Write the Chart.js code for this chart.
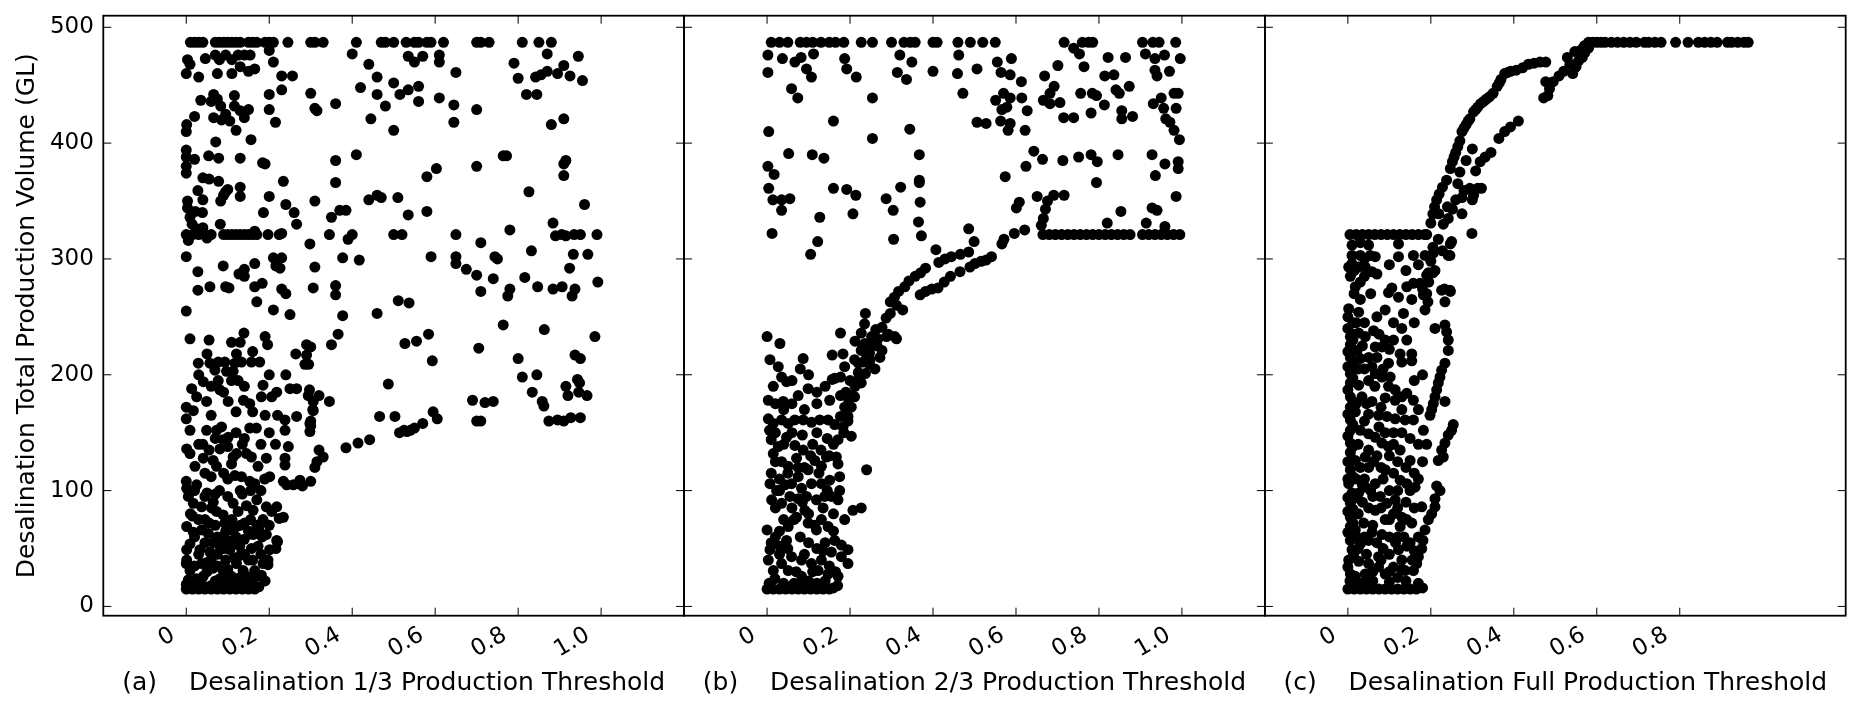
<!DOCTYPE html>
<html lang="en">
<head>
<meta charset="UTF-8">
<title>Desalination Production Thresholds</title>
<script src="https://cdn.jsdelivr.net/npm/chart.js@4.4.1/dist/chart.umd.min.js"></script>
<style>
  html, body { margin: 0; padding: 0; background: #fff; }
  #wrap { position: relative; width: 1861px; height: 713px; }
  #wrap canvas { position: absolute; left: 0; top: 0; }
</style>
</head>
<body>
<div id="wrap">
  <canvas id="panelA" width="1861" height="713"></canvas>
  <canvas id="panelB" width="1861" height="713"></canvas>
  <canvas id="panelC" width="1861" height="713"></canvas>
</div>
<script>
// Tick values / labels
const xTicksAB = [0, 0.2, 0.4, 0.6, 0.8, 1.0];
const xLabelsAB = ['0', '0.2', '0.4', '0.6', '0.8', '1.0'];
const xTicksC = [0, 0.2, 0.4, 0.6, 0.8];
const xLabelsC = ['0', '0.2', '0.4', '0.6', '0.8'];
const yTicks = [0, 100, 200, 300, 400, 500];
const yLabels = ['0', '100', '200', '300', '400', '500'];

const yTitle = 'Desalination Total Production Volume (GL)';
const xTitles = [
  '(a)    Desalination 1/3 Production Threshold',
  '(b)    Desalination 2/3 Production Threshold',
  '(c)    Desalination Full Production Threshold'
];

// (a) threshold vs total volume
const pointsA = [
  [0.01,487],[0.02,487],[0.03,487],[0.04,487],[0.07,487],[0.08,487],[0.09,487],[0.10,487],[0.11,487],[0.12,487],[0.13,487],
  [0.15,487],[0.16,487],[0.17,487],[0.19,487],[0.20,487],[0.21,487],[0.245,487],[0.30,487],[0.31,487],[0.33,487],[0.41,487],
  [0.47,487],[0.48,487],[0.50,487],[0.53,487],[0.55,487],[0.56,487],[0.58,487],[0.59,487],[0.62,487],[0.70,487],[0.71,487],
  [0.73,487],[0.81,487],[0.85,487],[0.88,487],
  [0.003,472],[0.009,468],[0,460],[0.03,457],[0.046,473],[0.07,476],[0.08,472],[0.095,476],[0.11,472],[0.075,460],[0.11,460],
  [0.14,476],[0.154,476],[0.15,462],[0.165,464],[0.2,480],[0.21,470],[0.23,446],[0.256,458],[0.23,458],[0.2,442],[0.2,429],
  [0.215,418],[0.035,437],[0.02,423],[0.001,416],[0,410],[0.066,442],[0.075,438],[0.083,432],[0.095,425],[0.105,419],[0.116,432],
  [0.116,441],[0.13,428],[0.14,422],[0.12,411],[0.156,403],[0.071,401],[0.066,422],[0.085,420],[0.15,429],[0.125,476],[0.13,466],[0.06,436],
  [0.40,477],[0.44,468],[0.42,448],[0.46,457],[0.46,442],[0.50,452],[0.48,432],[0.515,442],[0.535,446],[0.56,449],[0.56,436],
  [0.50,411],[0.445,421],[0.535,475],[0.55,470],[0.57,475],[0.61,476],[0.61,470],[0.65,461],[0.61,439],[0.645,433],[0.645,418],
  [0.70,429],[0.79,469],[0.80,456],[0.82,442],[0.845,442],[0.842,457],[0.855,459],[0.87,462],[0.895,460],[0.91,467],[0.925,458],
  [0.945,475],[0.955,454],[0.87,477],[0.88,416],[0.91,421],[0.30,443],[0.31,430],[0.315,428],[0.36,434],
  [0,394],[0,388],[0,380],[0,374],[0.02,386],[0.054,389],[0.078,387],[0.04,370],[0.055,369],[0.078,367],[0.095,358],[0.083,350],
  [0.028,359],[0.04,351],[0.003,350],[0.003,344],[0.022,341],[0.039,340],[0.009,336],[0.014,330],[0.025,326],[0.04,327],[0.082,330],
  [0.13,362],[0.13,354],[0.13,387],[0.184,383],[0.19,382],[0.2,354],[0.186,340],[0.24,347],[0.26,340],[0.266,330],[0.234,367],
  [0.31,350],[0.36,385],[0.36,366],[0.35,336],[0.37,342],[0.385,342],[0.345,321],[0.39,317],[0.40,321],[0.41,390],[0.44,351],
  [0.46,355],[0.47,353],[0.51,353],[0.535,338],[0.50,321],[0.52,321],[0.58,341],[0.58,371],[0.603,378],[0.70,380],[0.764,389],
  [0.772,389],[0.826,358],[0.78,325],[0.884,331],[0.91,372],[0.915,385],[0.91,382],[0.96,347],[0.65,321],[0.71,314],[0.89,320],
  [0.905,321],[0.915,320],[0.95,321],[0.99,321],[0.935,321],[0.09,355],[0.1,360],
  [0,321],[0.015,321],[0.03,321],[0.045,321],[0.06,321],[0.09,321],[0.10,321],[0.11,321],[0.12,321],[0.13,321],[0.14,321],
  [0.15,321],[0.16,321],[0.17,321],[0.197,321],[0.224,321],[0.005,316],[0.05,318],[0.165,324],[0.23,322],
  [0,302],[0.028,289],[0.028,273],[0.057,276],[0.089,294],[0.095,276],[0.103,275],[0.127,287],[0.14,291],[0.14,285],[0.165,296],
  [0.165,276],[0.17,263],[0.183,279],[0.21,301],[0.216,294],[0.23,301],[0.226,292],[0.21,256],[0.23,274],[0.24,270],[0.25,252],
  [0,255],[0.298,313],[0.31,293],[0.306,275],[0.36,277],[0.36,269],[0.377,301],[0.377,251],[0.417,299],[0.46,253],[0.511,264],
  [0.537,262],[0.59,302],[0.65,302],[0.65,296],[0.675,291],[0.70,286],[0.71,272],[0.744,302],[0.75,300],[0.74,283],[0.78,274],
  [0.775,268],[0.816,284],[0.832,307],[0.847,276],[0.884,274],[0.906,276],[0.937,274],[0.93,268],[0.924,292],[0.933,304],
  [0.968,304],[0.992,280],
  [0.297,187],[0.29,217],[0.295,209],[0.32,182],[0.3,160],[0.3,156],[0.305,170],[0.345,177],[0.35,226],[0.366,235],[0.385,137],
  [0.414,141],[0.442,144],[0.466,164],[0.487,192],[0.503,164],[0.514,150],[0.525,152],[0.532,151],[0.54,152],[0.55,154],
  [0.57,158],[0.527,227],[0.555,229],[0.584,235],[0.593,212],[0.595,168],[0.605,162],[0.705,223],[0.69,178],[0.70,160],
  [0.71,160],[0.72,176],[0.74,177],[0.764,243],[0.80,214],[0.81,198],[0.845,200],[0.834,185],[0.858,177],[0.862,173],
  [0.863,239],[0.874,160],[0.895,161],[0.91,160],[0.927,163],[0.95,163],[0.915,190],[0.92,182],[0.937,217],[0.95,214],
  [0.943,196],[0.948,193],[0.946,185],[0.966,182],[0.985,233],[0.31,120],[0.315,125],[0.32,135],[0.33,129],[0.30,108],[0.28,104],
  [0.009,231],[0.055,230],[0.109,228],[0.13,228],[0.139,236],[0.19,233],[0.196,226],[0.29,226],[0.30,224],[0.264,218],
  [0.286,209],[0.24,200],[0.029,210],[0.057,210],[0.077,211],[0.093,211],[0.117,210],[0.121,218],[0.133,211],[0.157,211],
  [0.177,211],[0.069,204],[0.097,203],[0.113,203],[0.041,194],[0.077,195],[0.109,195],[0.125,195],[0.013,188],[0.025,181],
  [0.081,187],[0.185,191],[0.181,181],[0.206,181],[0.218,185],[0.25,188],[0.266,188],[0.294,182],[0.049,177],[0.101,177],
  [0.138,178],[0.153,175],[0,172],[0.017,169],[0,162],[0.306,169],[0.306,177],[0.073,152],[0.049,152],[0.009,152],[0.085,155],
  [0.101,146],[0.089,144],[0.153,154],[0.169,154],[0.238,161],[0.266,164],[0.238,152],[0.298,158],[0.298,151],[0.001,136],
  [0.009,132],[0.041,128],[0.065,126],[0.081,136],[0.113,129],[0.121,132],[0.145,132],[0.157,129],[0.173,121],[0.193,128],
  [0.238,128],[0.238,122],[0.246,138],[0.274,109],[0.021,121],[0.045,115],[0.073,121],[0.109,123],[0.117,113],[0.133,112],
  [0.153,108],[0.165,106],[0.189,110],[0.201,112],[0.234,108],[0.242,105],[0.258,105],[0.27,106],[0,108],[0.001,102],[0.005,95],
  [0.017,89],[0.037,86],[0.061,85],[0.065,90],[0.089,79],[0.073,82],[0.113,89],[0.125,82],[0.145,87],[0.161,83],[0.193,86],
  [0.206,82],[0.218,86],[0.234,77],[0.001,69],[0.017,64],[0.037,66],[0.053,63],[0.093,72],[0.105,66],[0.121,69],[0.141,72],
  [0.161,62],[0.193,62],[0.218,57],[0.009,54],[0.001,49],[0.033,49],[0.057,47],[0.081,52],[0.105,49],[0.129,52],[0.157,50],
  [0.173,52],[0.201,49],[0.197,40],[0,37],[0.001,40],[0.009,31],[0.037,37],[0.065,33],[0.089,31],[0.121,37],[0.137,31],
  [0.165,31],[0.185,37],[0.181,27],[0.005,23],[0.025,24],[0.041,26],[0.081,24],[0.109,26],[0.145,26],[0.169,26],
  [0.02,60],[0.045,75],[0.07,70],[0.085,60],[0.1,57],[0.115,42],[0.13,44],[0.15,40],[0.06,40],[0.075,45],[0.095,40],[0.05,30],
  [0.1,32],[0.12,20],[0.07,22],[0.03,45],[0.015,78],[0.05,98],[0.1,95],[0.135,97],[0.17,92],[0.08,100],[0.12,60],[0.14,58],
  [0.175,68],[0.185,75],[0.2,70],[0.155,75],[0.025,105],[0.06,112],[0.09,115],[0.03,140],[0.055,135],[0.1,138],[0.14,145],
  [0.18,140],[0.2,150],[0.215,140],[0.19,165],[0.22,165],[0.06,165],[0.12,168],[0.16,168],[0.03,200],[0.05,218],[0.16,220],[0.2,200],
  [0.01,80],[0.03,75],[0.055,72],[0.075,60],[0.095,65],[0.11,75],[0.13,70],[0.15,65],[0.17,70],[0.045,55],[0.065,55],[0.09,50],
  [0.11,55],[0.14,45],[0.16,40],[0.18,45],[0.02,35],[0.05,38],[0.075,35],[0.1,27],[0.13,25],[0.155,22],[0.04,18],[0.08,17],
  [0.16,19],[0.02,100],[0.045,95],[0.07,97],[0.13,100],[0.155,100],[0.18,100],[0.1,110],[0.04,140],[0.07,145],[0.12,150],
  [0.135,140],[0.06,190],[0.09,185],[0.14,190],
  [0,15],[0.015,15],[0.03,15],[0.045,15],[0.06,15],[0.075,15],[0.09,15],[0.105,15],[0.12,15],[0.135,15],[0.15,15],[0.165,15],
  [0.175,17],[0,19],[0.02,20],[0.06,18],[0.1,19],[0.14,18],[0.19,22],
  [0.224,76],[0.22,56],[0.216,50],[0.197,36],[0.183,60]
];

// (b)
const pointsB = [
  [0.01,487],[0.03,487],[0.05,487],[0.08,487],[0.095,487],[0.11,487],[0.13,487],[0.15,487],[0.165,487],[0.185,487],[0.227,487],
  [0.254,487],[0.30,487],[0.33,487],[0.345,487],[0.357,487],[0.40,487],[0.41,487],[0.46,487],[0.49,487],[0.52,487],[0.55,487],
  [0.716,487],[0.76,487],[0.775,487],[0.785,487],[0.905,487],[0.93,487],[0.945,487],[0.985,487],
  [0.002,476],[0.002,461],[0.037,473],[0.067,470],[0.082,474],[0.095,464],[0.107,457],[0.112,477],[0.059,447],[0.074,439],
  [0.187,473],[0.192,464],[0.215,457],[0.254,439],[0.32,476],[0.314,461],[0.336,455],[0.349,470],[0.40,462],[0.459,460],
  [0.462,476],[0.472,443],[0.506,464],[0.506,418],[0.528,417],[0.555,470],[0.564,461],[0.589,473],[0.586,459],[0.57,443],
  [0.551,437],[0.566,429],[0.586,439],[0.578,431],[0.613,453],[0.614,439],[0.627,428],[0.563,419],[0.586,417],[0.581,411],
  [0.622,411],[0.669,458],[0.701,467],[0.692,449],[0.682,443],[0.666,437],[0.682,434],[0.706,435],[0.715,422],[0.739,422],
  [0.739,482],[0.753,477],[0.764,466],[0.756,443],[0.784,443],[0.794,441],[0.781,426],[0.813,433],[0.814,458],[0.822,474],
  [0.836,459],[0.841,446],[0.849,443],[0.864,474],[0.873,449],[0.855,428],[0.855,421],[0.881,423],[0.912,477],[0.935,473],
  [0.958,476],[0.935,463],[0.94,458],[0.97,462],[0.996,473],[0.931,434],[0.95,439],[0.956,430],[0.961,421],[0.971,418],
  [0.981,443],[0.991,443],[0.986,430],[0.981,411],[0.994,403],[0.991,384],[0.991,378],[0.986,354],[0.959,382],[0.936,372],
  [0.928,390],[0.846,390],[0.796,384],[0.794,366],[0.781,390],[0.751,388],[0.713,385],[0.664,386],[0.643,393],[0.624,380],[0.574,371],
  [0.004,410],[0.002,380],[0.017,373],[0.052,391],[0.109,390],[0.137,387],[0.004,361],[0.014,351],[0.035,351],[0.055,352],
  [0.035,342],[0.012,322],[0.16,419],[0.344,412],[0.254,404],[0.16,361],[0.192,360],[0.214,355],[0.207,339],[0.127,336],
  [0.122,315],[0.105,304],[0.287,352],[0.304,342],[0.322,362],[0.305,317],[0.367,390],[0.367,368],[0.367,366],[0.369,349],
  [0.365,332],[0.372,320],[0.486,326],[0.499,315],[0.601,344],[0.608,349],[0.651,354],[0.676,350],[0.691,355],[0.716,355],
  [0.671,343],[0.666,335],[0.661,329],[0.853,341],[0.82,331],[0.914,331],[0.928,344],[0.94,342],[0.959,328],
  [0.665,321],[0.68,321],[0.695,321],[0.71,321],[0.725,321],[0.74,321],[0.755,321],[0.77,321],[0.785,321],[0.8,321],[0.815,321],
  [0.83,321],[0.845,321],[0.86,321],[0.875,321],[0.905,321],[0.92,321],[0.935,321],[0.95,321],[0.965,321],[0.98,321],[0.995,321],
  [0.621,325],[0.596,322],[0.571,317],[0.566,313],[0.541,302],[0.528,299],[0.516,298],[0.501,296],[0.489,293],[0.465,289],
  [0.442,285],[0.427,280],[0.412,275],[0.397,274],[0.382,272],[0.369,269],[0.486,306],[0.466,304],[0.444,302],[0.429,300],
  [0.414,297],[0.407,308],[0.382,292],[0.37,288],[0.357,285],[0.342,281],[0.332,276],[0.317,272],[0.307,267],[0.297,253],
  [0.312,260],[0.327,256],[0.297,263],[0.287,249],[0.277,241],[0.262,239],[0.257,231],[0.249,225],[0.237,253],[0.235,244],
  [0.227,236],[0.212,229],[0.247,219],[0.227,221],[0.232,211],[0.247,209],[0.272,215],[0.277,221],[0.312,231],[0.292,235],
  [0.237,201],[0.222,198],[0.212,190],[0.207,182],[0.197,178],[0.187,172],[0.177,164],[0.177,236],[0.157,217],[0.177,198],
  [0.157,196],[0.177,182],[0.255,228],[0.265,225],[0.24,215],[0.26,205],[0.23,225],[0.22,210],[0.2,195],[0.19,185],[0.195,160],[0.185,150],
  [0,233],[0.031,227],[0.007,213],[0.027,207],[0.035,198],[0.047,194],[0.087,214],[0.003,178],[0.039,177],[0.075,182],
  [0.099,188],[0.151,178],[0.163,197],[0.183,218],[0.187,207],[0.211,213],[0.22,202],[0.236,227],[0.252,233],[0.267,231],
  [0.288,233],[0.308,233],[0.248,213],[0.227,193],[0.211,181],[0.203,172],[0.195,164],[0.183,155],[0.171,144],[0.167,129],
  [0.171,123],[0.175,112],[0.175,100],[0.171,92],[0.187,75],[0.207,83],[0.227,85],[0.24,118],[0.203,147],[0.003,162],
  [0.015,158],[0.035,161],[0.051,158],[0.067,161],[0.087,161],[0.107,159],[0.127,161],[0.147,161],[0.163,157],[0.006,152],
  [0.01,144],[0.027,138],[0.047,146],[0.067,139],[0.087,135],[0.071,128],[0.051,121],[0.035,125],[0.015,132],[0.115,126],
  [0.131,121],[0.143,129],[0.099,118],[0.075,112],[0.007,106],[0.023,100],[0.043,105],[0.059,106],[0.083,102],[0.107,106],
  [0.131,106],[0.151,109],[0.011,92],[0.035,89],[0.075,93],[0.095,95],[0.119,92],[0.139,95],[0.091,83],[0.071,77],[0.051,69],
  [0,66],[0.099,72],[0.119,66],[0.131,75],[0.147,69],[0.163,57],[0.179,53],[0.195,49],[0.047,57],[0.031,52],[0.007,49],
  [0.003,40],[0.015,31],[0.035,37],[0.059,43],[0.083,40],[0.107,37],[0.131,40],[0.155,47],[0.179,43],[0.195,37],[0.123,31],
  [0.147,28],[0.171,26],[0.051,31],[0.083,26],[0.019,24],
  [0.02,60],[0.04,75],[0.06,85],[0.08,60],[0.1,55],[0.12,50],[0.14,55],[0.16,65],[0.02,85],[0.03,110],[0.05,115],[0.09,120],
  [0.11,140],[0.13,135],[0.15,130],[0.155,95],[0.16,80],[0.02,125],[0.04,170],[0.06,175],[0.09,170],[0.12,175],[0.14,190],
  [0.07,30],[0.1,22],[0.14,22],[0.165,30],
  [0.01,55],[0.03,65],[0.05,50],[0.065,75],[0.085,90],[0.1,80],[0.115,70],[0.135,85],[0.145,100],[0.125,115],[0.105,130],
  [0.085,148],[0.06,150],[0.04,140],[0.02,150],[0.01,115],[0.03,100],[0.055,95],[0.075,120],[0.12,150],[0.145,145],[0.16,140],
  [0.03,45],[0.065,20],[0.09,45],[0.11,30],[0.135,48],[0.15,35],[0.02,175],[0.06,195],[0.1,200],[0.12,185],[0.015,190],[0.08,205],
  [0,15],[0.015,15],[0.03,15],[0.045,15],[0.06,15],[0.075,15],[0.09,15],[0.105,15],[0.12,15],[0.135,15],[0.15,15],[0.16,16],
  [0.005,20],[0.04,20],[0.08,19],[0.12,20],[0.17,18]
];

// (c)
const pointsC = [
  [0.58,487],[0.59,487],[0.6,487],[0.61,487],[0.62,487],[0.635,487],[0.65,487],[0.665,487],[0.68,487],[0.695,487],[0.715,487],
  [0.725,487],[0.74,487],[0.755,487],[0.79,487],[0.82,487],[0.845,487],[0.86,487],[0.875,487],[0.89,487],[0.915,487],[0.925,487],
  [0.94,487],[0.955,487],[0.965,487],
  [0.19,321],[0.2,331],[0.205,339],[0.209,345],[0.214,351],[0.22,356],[0.228,362],[0.238,368],[0.247,378],[0.252,384],[0.26,392],
  [0.27,402],[0.275,410],[0.285,416],[0.294,421],[0.303,427],[0.313,431],[0.327,436],[0.341,440],[0.35,443],[0.36,449],[0.369,455],
  [0.378,460],[0.392,462],[0.406,463],[0.421,465],[0.435,468],[0.449,469],[0.463,470],[0.477,470],[0.256,388],[0.265,397],
  [0.28,413],[0.29,419],[0.308,429],[0.32,434],[0.334,438],[0.365,452],[0.385,461],
  [0.219,339],[0.242,335],[0.252,343],[0.26,351],[0.275,353],[0.28,359],[0.294,361],[0.313,361],[0.322,361],[0.303,355],[0.3,351],
  [0.275,339],[0.299,322],[0.308,376],[0.319,384],[0.331,388],[0.345,392],[0.364,404],[0.378,410],[0.392,414],[0.411,419],
  [0.472,439],[0.482,441],[0.486,447],[0.477,453],[0.495,453],[0.509,458],[0.529,474],[0.542,460],[0.547,465],[0.556,471],
  [0.565,474],[0.571,478],[0.547,479],[0.561,480],[0.58,482],[0.52,462],[0.535,468],[0.55,466],[0.565,481],[0.57,484],
  [0.205,310],[0.2,298],[0.194,288],[0.195,280],[0.18,274],[0.19,270],[0.218,317],[0.228,307],[0.242,303],[0.247,313],[0.233,274],
  [0.247,272],[0.205,288],[0.23,330],[0.24,345],[0.265,365],[0.27,375],[0.285,385],[0.3,395],
  [0.005,321],[0.02,321],[0.035,321],[0.05,321],[0.065,321],[0.08,321],[0.095,321],[0.11,321],[0.125,321],[0.14,321],[0.155,321],
  [0.17,321],[0.185,321],
  [0.01,303],[0.03,303],[0.054,303],[0.066,302],[0.01,296],[0.002,293],[0.026,293],[0.042,293],[0.058,289],[0.07,287],[0.006,285],
  [0.018,276],[0.03,280],[0.122,302],[0.158,303],[0.186,303],[0.206,305],[0.25,315],[0.246,303],[0.122,313],[0.21,290],[0.19,286],
  [0.174,279],[0.158,279],[0.142,276],[0.106,275],[0.098,271],[0.122,267],[0.154,265],[0.182,269],[0.193,263],[0.226,273],
  [0.246,273],[0.234,263],[0.002,257],[0.026,254],[0.09,256],[0.134,253],[0.186,256],[0.21,240],[0.234,243],[0.238,237],
  [0.242,230],[0.242,221],[0.234,210],[0.226,204],[0.222,198],[0.218,193],[0.214,187],[0.21,181],[0.206,175],[0.202,170],
  [0.198,165],[0.234,177],[0.254,157],[0.25,152],[0.242,148],[0.234,141],[0.226,135],[0.218,126],[0.23,129],[0.214,104],
  [0.222,100],[0.21,93],[0.21,86],[0.202,80],[0.194,75],[0.186,66],[0.181,57],[0.178,50],[0.17,43],[0.166,37],[0.158,31],
  [0.006,233],[0.026,236],[0.042,233],[0.006,226],[0.022,221],[0.006,215],[0.03,214],[0.05,215],[0.066,224],[0.082,224],
  [0.062,238],[0.11,230],[0.142,230],[0.126,218],[0.154,218],[0.154,212],[0.13,211],[0.098,210],[0.058,207],[0.066,201],
  [0.082,198],[0.102,198],[0.006,201],[0.006,193],[0.026,191],[0.098,190],[0.114,187],[0.13,181],[0.142,184],[0.114,178],
  [0.158,178],[0.058,177],[0.034,181],[0.006,181],[0.006,172],[0.018,168],[0.05,166],[0.074,165],[0.094,164],[0.114,162],
  [0.138,161],[0.158,161],[0.182,152],[0.006,161],[0.006,152],[0.03,152],[0.05,149],[0.066,146],[0.082,141],[0.098,138],
  [0.126,135],[0.15,126],[0.006,141],[0.006,133],[0.018,126],[0.042,129],[0.062,125],[0.09,118],[0.11,115],[0.126,109],
  [0.142,106],[0.162,103],[0.178,86],[0.006,118],[0.002,106],[0.01,98],[0.006,89],[0.026,98],[0.042,103],[0.066,106],
  [0.078,95],[0.066,83],[0.094,89],[0.114,92],[0.13,77],[0.142,75],[0.154,72],[0.006,77],[0.006,69],[0.018,66],[0.038,72],
  [0.058,64],[0.082,62],[0.126,69],[0.006,57],[0.01,49],[0.03,54],[0.05,57],[0.074,43],[0.122,49],[0.142,52],[0.002,40],
  [0.026,39],[0.05,37],[0.074,34],[0.11,34],[0.138,31],[0.006,28],[0.018,26],[0.042,28],[0.09,28],
  [0,110],[0.012,112],[0,125],[0.012,138],[0,147],[0.012,157],[0,166],[0.012,177],[0,187],[0.012,197],[0,207],[0.012,210],
  [0,220],[0.012,230],[0,240],[0.012,245],[0,250],[0.015,62],[0,64],[0.012,72],[0,82],[0.012,84],[0,94],[0.014,93],[0,34],
  [0.014,45],[0.012,18],[0.01,312],[0.03,314],[0.05,312],
  [0.02,60],[0.025,80],[0.02,110],[0.025,140],[0.02,175],[0.025,205],[0.02,245],[0.03,265],[0.015,270],[0.03,120],[0.035,90],
  [0.04,20],[0.045,45],[0.06,30],[0.07,55],[0.085,50],[0.1,45],[0.1,60],[0.115,55],[0.135,60],[0.15,55],[0.16,48],[0.12,25],
  [0.13,40],[0.09,75],[0.11,80],[0.05,85],[0.04,110],[0.06,95],[0.085,110],[0.1,100],[0.12,100],[0.14,120],[0.16,115],[0.05,135],
  [0.07,130],[0.11,140],[0.13,150],[0.15,145],[0.17,140],[0.04,160],[0.08,172],[0.09,180],[0.13,170],[0.16,195],[0.18,200],
  [0.05,195],[0.04,205],[0.07,215],[0.1,222],[0.11,245],[0.13,240],[0.16,245],[0.04,300],[0.1,295],[0.14,290],[0.17,295],
  [0.015,290],[0.04,285],[0.055,270],[0.07,250],[0.04,245],[0.015,235],[0.035,225],[0.075,235],[0.09,230],[0.085,205],
  [0.065,190],[0.045,175],[0.075,155],[0.09,150],[0.11,150],[0.12,125],[0.1,130],[0.08,120],[0.05,120],[0.035,105],[0.055,100],
  [0.08,85],[0.1,75],[0.12,85],[0.14,90],[0.16,85],[0.06,70],[0.04,60],[0.025,50],[0.08,40],[0.1,30],[0.13,32],[0.155,40],
  [0.12,60],[0.17,60],[0.15,100],[0.17,110],[0.18,125],[0.19,140],[0.17,170],
  [0,15],[0.015,15],[0.03,15],[0.045,15],[0.06,15],[0.075,15],[0.09,15],[0.105,15],[0.12,15],[0.135,15],[0.15,15],[0.165,15],
  [0.18,16],[0.005,22],[0.03,20],[0.06,22],[0.1,21],[0.14,22],[0.17,20]
];

// Layout of the three boxes (pixels)
const CANVAS_W = 1861;
const CANVAS_H = 713;
const AREA_TOP = 15.7;
const AREA_BOTTOM = 615.7;
const PANEL_EDGES = [103.3, 684.1, 1264.9, 1845.7];
const TICK_LEN = 8;
const FONT = "'DejaVu Sans', 'Liberation Sans', sans-serif";

// matplotlib-classic style frame: box + inward ticks on all four sides
const framePlugin = {
  id: 'frame',
  afterDatasetsDraw(chart) {
    const { ctx, chartArea: a, scales: { x, y } } = chart;
    ctx.save();
    ctx.strokeStyle = '#000';
    ctx.lineWidth = 1;
    ctx.beginPath();
    x.ticks.forEach(t => {
      const px = x.getPixelForValue(t.value);
      ctx.moveTo(px, a.bottom);
      ctx.lineTo(px, a.bottom - TICK_LEN);
      ctx.moveTo(px, a.top);
      ctx.lineTo(px, a.top + TICK_LEN);
    });
    y.ticks.forEach(t => {
      const py = y.getPixelForValue(t.value);
      ctx.moveTo(a.left, py);
      ctx.lineTo(a.left + TICK_LEN, py);
      ctx.moveTo(a.right, py);
      ctx.lineTo(a.right - TICK_LEN, py);
    });
    ctx.stroke();
    ctx.lineWidth = 1.8;
    ctx.strokeRect(a.left, a.top, a.right - a.left, a.bottom - a.top);
    ctx.restore();
  }
};

function noScalePadding(s) {
  s.paddingTop = 0;
  s.paddingBottom = 0;
  s.paddingLeft = 0;
  s.paddingRight = 0;
}

function makePanel(canvasId, idx, points, tickVals, tickLabels) {
  const left = PANEL_EDGES[idx];
  const right = PANEL_EDGES[idx + 1];
  const first = idx === 0;

  return new Chart(document.getElementById(canvasId), {
    type: 'scatter',
    data: {
      datasets: [{
        data: points.map(p => ({ x: p[0], y: p[1] })),
        backgroundColor: '#000',
        borderWidth: 0,
        pointRadius: 5.5,
        pointHoverRadius: 5.5
      }]
    },
    options: {
      responsive: false,
      animation: false,
      events: [],
      layout: {
        padding: { left: first ? 0 : left, right: CANVAS_W - right, top: AREA_TOP, bottom: 0 }
      },
      plugins: {
        legend: { display: false },
        tooltip: { enabled: false }
      },
      scales: {
        x: {
          type: 'linear',
          min: -0.2,
          max: 1.2,
          afterBuildTicks: s => { s.ticks = tickVals.map(v => ({ value: v })); },
          afterFit: s => { s.height = CANVAS_H - AREA_BOTTOM; noScalePadding(s); },
          grid: { display: false, drawTicks: false },
          border: { display: false },
          ticks: {
            autoSkip: false,
            minRotation: 30,
            maxRotation: 30,
            padding: 5.8,
            labelOffset: -13.2,
            color: '#000',
            font: { family: FONT, size: 23 },
            callback: v => tickLabels[tickVals.indexOf(v)]
          },
          title: {
            display: true,
            text: xTitles[idx],
            color: '#000',
            font: { family: FONT, size: 25 },
            padding: { top: 0, bottom: 14.4 }
          }
        },
        y: {
          type: 'linear',
          min: -8,
          max: 510,
          afterBuildTicks: s => { s.ticks = yTicks.map(v => ({ value: v })); },
          afterFit: s => { s.width = first ? left : 0; noScalePadding(s); },
          grid: { display: false, drawTicks: false },
          border: { display: false },
          ticks: {
            display: first,
            padding: 9.5,
            color: '#000',
            font: { family: FONT, size: 23 },
            callback: v => yLabels[yTicks.indexOf(v)]
          },
          title: {
            display: first,
            text: yTitle,
            color: '#000',
            font: { family: FONT, size: 25 },
            padding: { top: 12.4, bottom: 0 }
          }
        }
      }
    },
    plugins: [framePlugin]
  });
}

makePanel('panelA', 0, pointsA, xTicksAB, xLabelsAB);
makePanel('panelB', 1, pointsB, xTicksAB, xLabelsAB);
makePanel('panelC', 2, pointsC, xTicksC, xLabelsC);
</script>
</body>
</html>
